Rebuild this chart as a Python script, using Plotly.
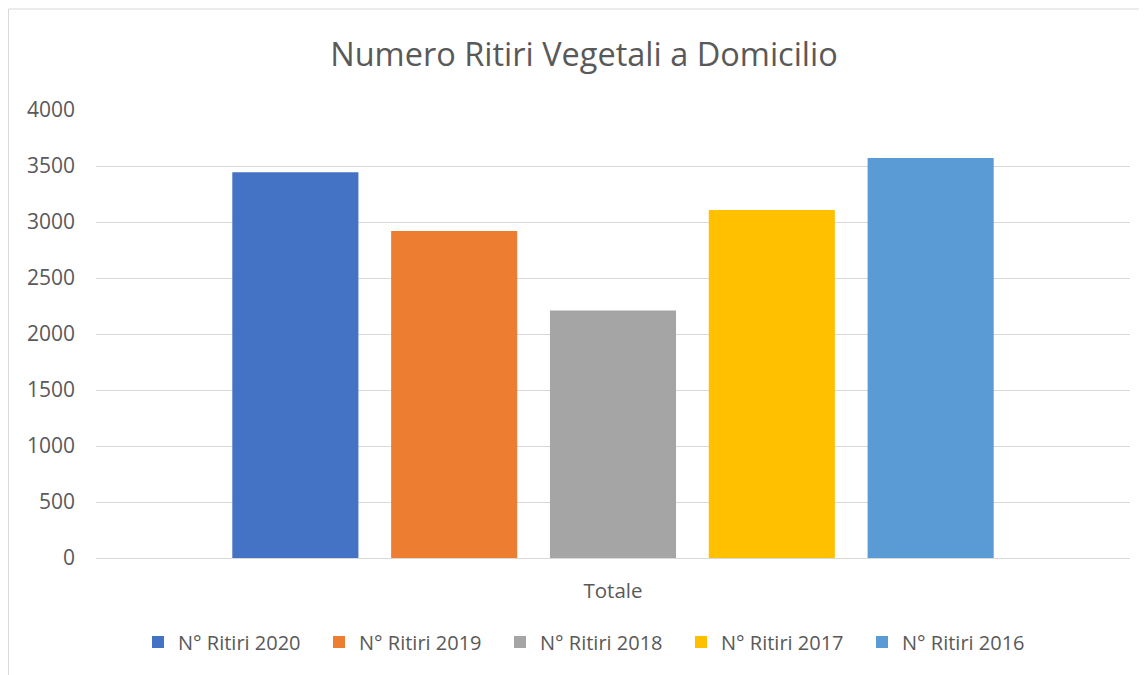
import plotly.graph_objects as go

categories = ["Totale"]
series_names = ["N° Ritiri 2020", "N° Ritiri 2019", "N° Ritiri 2018", "N° Ritiri 2017", "N° Ritiri 2016"]
series_values = [3445, 2920, 2210, 3107, 3571]
series_colors = ["#4472C4", "#ED7D31", "#A5A5A5", "#FFC000", "#5B9BD5"]
y_ticks = [0, 500, 1000, 1500, 2000, 2500, 3000, 3500, 4000]

FONT = "Open Sans"
TXT = "#595959"

fig = go.Figure()
for name, val, col in zip(series_names, series_values, series_colors):
    fig.add_trace(go.Bar(x=categories, y=[val], name=name, marker_color=col,
                         marker_line_width=0))

# page has an 8px body margin; work in figure coordinates = page - 8
OFF = 8
W, H = 1147 - OFF, 675 - OFF
ml, mt = 96 - OFF, 110 - OFF
mr = 17
mb = H - (558 - OFF)
pw, ph = W - ml - mr, H - mt - mb

def px(x):
    return (x - OFF - ml) / pw

def py(y):
    return 1 - (y - OFF - mt) / ph

fig.update_layout(
    width=W, height=H,
    margin=dict(l=ml, r=mr, t=mt, b=mb),
    paper_bgcolor="white", plot_bgcolor="white",
    barmode="group", bargap=0.232, bargroupgap=0.206,
    title=dict(text="Numero Ritiri Vegetali a Domicilio", x=(584 - OFF) / W, xref="container",
               xanchor="center", y=1 - (55 - OFF) / H, yanchor="middle",
               font=dict(family=FONT, size=32.5, color=TXT)),
    font=dict(family=FONT, color=TXT),
    xaxis=dict(showgrid=False, showline=True, linecolor="#D9D9D9", linewidth=1,
               tickfont=dict(family=FONT, size=20.5, color=TXT), ticks="",
               zeroline=False, ticklabelstandoff=14),
    yaxis=dict(range=[0, 4000], tickvals=y_ticks, showgrid=True, gridcolor="#D9D9D9",
               gridwidth=1, zeroline=False, showline=False, ticks="",
               tickfont=dict(family=FONT, size=21, color=TXT), ticklabelstandoff=20),
    legend=dict(orientation="h", x=px(138), xanchor="left", y=py(642), yanchor="middle",
                font=dict(family=FONT, size=20, color=TXT), entrywidth=136,
                itemwidth=30, traceorder="normal"),
    showlegend=True,
)

fig.add_shape(type="rect", xref="paper", yref="paper",
              x0=px(8.5), x1=px(1160), y0=py(690), y1=py(9),
              line=dict(color="#D9D9D9", width=1), fillcolor="rgba(0,0,0,0)", layer="below")

fig.write_html("out.html")
